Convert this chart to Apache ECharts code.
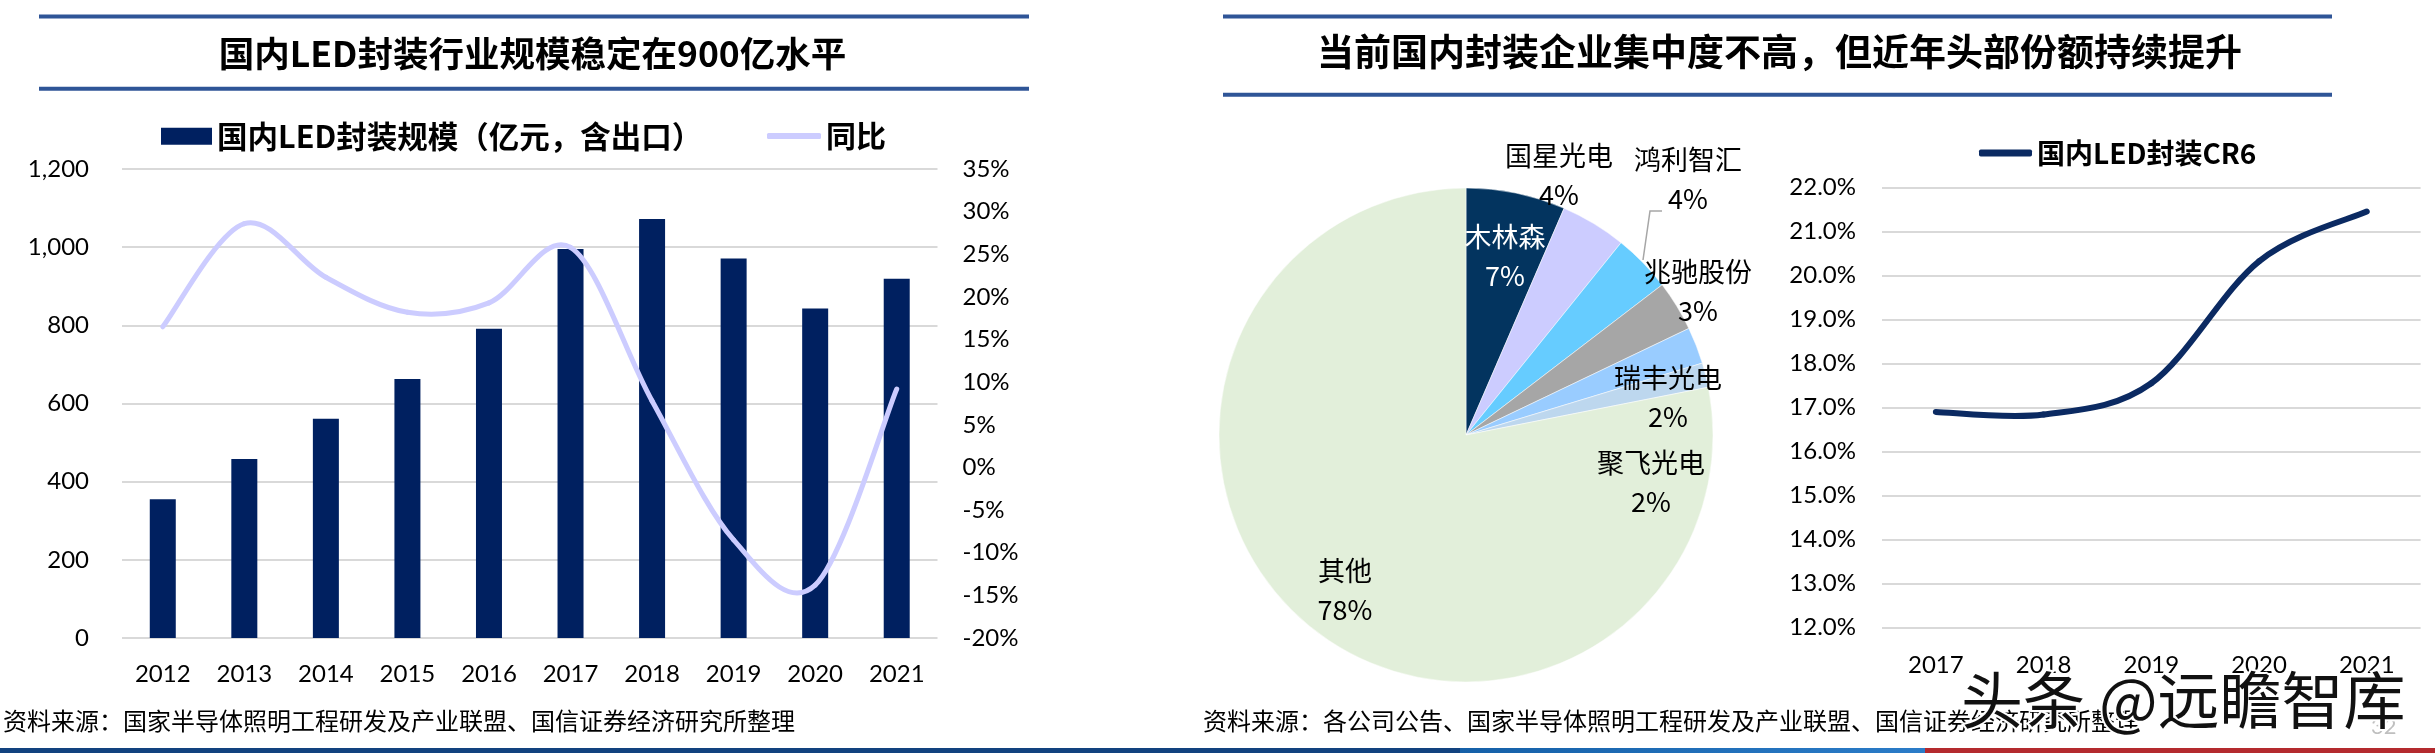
<!DOCTYPE html>
<html><head><meta charset="utf-8">
<script src="https://cdn.jsdelivr.net/npm/echarts@6/dist/echarts.min.js"></script>
<style>html,body{margin:0;padding:0;background:#fff}#c{width:2435px;height:753px}</style>
</head><body><div id="c"></div>
<script>
// ---------- data ----------
const years = ['2012','2013','2014','2015','2016','2017','2018','2019','2020','2021'];
const marketSize = [355, 458, 561, 663, 791, 995, 1072, 971, 843, 919];
const yoyGrowth = [16.5, 28.6, 22.3, 18.2, 19.3, 25.8, 7.8, -8.5, -13.8, 9.2];
const pieNames = ['木林森','国星光电','鸿利智汇','兆驰股份','瑞丰光电','聚飞光电','其他'];
const pieShares = [6.5, 4.3, 3.8, 3.3, 2.4, 1.6, 78.1];
const cr6Years = ['2017','2018','2019','2020','2021'];
const cr6 = [16.9, 16.84, 17.55, 20.32, 21.45];

const barName = '国内LED封装规模（亿元，含出口）';
const yoyName = '同比';
const cr6Name = '国内LED封装CR6';
const leftTitle = '国内LED封装行业规模稳定在900亿水平';
const rightTitle = '当前国内封装企业集中度不高，但近年头部份额持续提升';
const leftSource = '资料来源：国家半导体照明工程研发及产业联盟、国信证券经济研究所整理';
const rightSource = '资料来源：各公司公告、国家半导体照明工程研发及产业联盟、国信证券经济研究所整理';

// ---------- styles / layout ----------
const pieColors = ['#03345F','#CCCCFF','#66CCFF','#A6A6A6','#99CCFF','#BDD7EE','#E2EFDA'];
const pieLabelAt = [[1505,256],[1559,175],[1688,179],[1698,291],[1668,397],[1651,482],[1345,590]];
const CJK = "'Noto Sans CJK SC', sans-serif";
const NUM = "Lato, 'Liberation Sans', sans-serif";
const ruleColor = '#2F5597';
const gridColor = '#D9D9D9';
const yoyColor = '#CCCCFF';
const cr6Color = '#0B2A62';

// Excel-like smoothed line (Catmull-Rom, 1/6 tangents) drawn through the axis scales
function smoothLine(values, color, width) {
  return function (params, api) {
    const i = params.dataIndex;
    const n = values.length;
    if (i >= n - 1) return null;
    const P = k => { const j = Math.max(0, Math.min(n - 1, k)); return api.coord([j, values[j]]); };
    const p0 = P(i - 1), p1 = P(i), p2 = P(i + 1), p3 = P(i + 2);
    return {
      type: 'bezierCurve',
      z2: 10,
      shape: {
        x1: p1[0], y1: p1[1], x2: p2[0], y2: p2[1],
        cpx1: p1[0] + (p2[0] - p0[0]) / 6, cpy1: p1[1] + (p2[1] - p0[1]) / 6,
        cpx2: p2[0] - (p3[0] - p1[0]) / 6, cpy2: p2[1] - (p3[1] - p1[1]) / 6
      },
      style: {stroke: color, lineWidth: width, fill: null, lineCap: 'round'}
    };
  };
}

const chart = echarts.init(document.getElementById('c'), null, {renderer:'canvas'});

const option = {
  animation: false,
  backgroundColor: '#fff',
  legend: [
    {left:156, top:116, itemWidth:51, itemHeight:17, icon:'rect', selectedMode:false, data:[barName],
     textStyle:{fontSize:30.5, fontWeight:'bold', color:'#000', fontFamily:CJK, lineHeight:30}},
    {left:762, top:116, itemWidth:54, itemHeight:6, icon:'roundRect', selectedMode:false, data:[yoyName],
     textStyle:{fontSize:30, fontWeight:'bold', color:'#000', fontFamily:CJK, lineHeight:30}},
    {left:1974, top:134, itemWidth:53, itemHeight:7, icon:'roundRect', selectedMode:false, data:[cr6Name],
     textStyle:{fontSize:28, fontWeight:'bold', color:'#000', fontFamily:CJK, lineHeight:28}}
  ],
  grid: [
    {left:122, top:169, width:815.5, height:469},
    {left:1882, top:187.3, width:538.6, height:440.4}
  ],
  xAxis: [
    {type:'category', gridIndex:0, data:years, axisLine:{show:false}, axisTick:{show:false},
     axisLabel:{margin:24, fontSize:24, color:'#000', fontFamily:NUM}},
    {type:'category', gridIndex:1, data:cr6Years, axisLine:{show:false}, axisTick:{show:false},
     axisLabel:{margin:26, fontSize:24, color:'#000', fontFamily:NUM}}
  ],
  yAxis: [
    {type:'value', gridIndex:0, min:0, max:1200, interval:200,
     axisLine:{show:false}, axisTick:{show:false},
     axisLabel:{margin:33, fontSize:24, color:'#000', fontFamily:NUM},
     splitLine:{lineStyle:{color:gridColor, width:2}}},
    {type:'value', gridIndex:0, position:'right', min:-20, max:35, interval:5,
     axisLine:{show:false}, axisTick:{show:false}, splitLine:{show:false},
     axisLabel:{margin:25, fontSize:24, color:'#000', fontFamily:NUM, formatter:'{value}%'}},
    {type:'value', gridIndex:1, min:12, max:22, interval:1,
     axisLine:{show:false}, axisTick:{show:false},
     axisLabel:{margin:26, fontSize:24, color:'#000', fontFamily:NUM, formatter: v => v.toFixed(1) + '%'},
     splitLine:{lineStyle:{color:gridColor, width:2}}}
  ],
  series: [
    {name:barName, type:'bar', xAxisIndex:0, yAxisIndex:0, data:marketSize, barWidth:26, z:2,
     itemStyle:{color:'#002060'}},
    {name:yoyName, type:'custom', coordinateSystem:'cartesian2d', xAxisIndex:0, yAxisIndex:1, z:10,
     itemStyle:{color:yoyColor}, silent:true,
     data: yoyGrowth.map((v, i) => [i, v]),
     renderItem: smoothLine(yoyGrowth, yoyColor, 5)},
    {name:cr6Name, type:'custom', coordinateSystem:'cartesian2d', xAxisIndex:1, yAxisIndex:2, z:10,
     itemStyle:{color:cr6Color}, silent:true,
     data: cr6.map((v, i) => [i, v]),
     renderItem: smoothLine(cr6, cr6Color, 6)},
    {name:'share', type:'pie', center:[1466,435], radius:247, startAngle:90, clockwise:true,
     avoidLabelOverlap:false, silent:true,
     itemStyle:{borderColor:'#fff', borderWidth:0.5},
     label:{show:true, position:'outside', formatter: p => p.name + '\n' + Math.round(p.value) + '%',
            fontSize:27, lineHeight:39, color:'#000', fontFamily:CJK, align:'center'},
     labelLine:{show:false},
     labelLayout: function (p) {
       const pos = pieLabelAt[p.dataIndex];
       const o = {x:pos[0], y:pos[1], align:'center', verticalAlign:'middle'};
       if (p.dataIndex === 2) o.labelLinePoints = [[1643,260],[1650,211],[1662,211]];
       return o;
     },
     data: pieNames.map((n, i) => {
       const d = {name:n, value:pieShares[i], itemStyle:{color:pieColors[i]}};
       if (i === 0) d.label = {color:'#fff', position:'inside'};
       if (i === 2) d.labelLine = {show:true, lineStyle:{color:'#A6A6A6', width:1.5}};
       return d;
     })}
  ],
  graphic: [
    {type:'line', shape:{x1:39, y1:16.5, x2:1029, y2:16.5}, style:{stroke:ruleColor, lineWidth:4}},
    {type:'line', shape:{x1:39, y1:88.7, x2:1029, y2:88.7}, style:{stroke:ruleColor, lineWidth:4}},
    {type:'line', shape:{x1:1223, y1:16.5, x2:2332, y2:16.5}, style:{stroke:ruleColor, lineWidth:4}},
    {type:'line', shape:{x1:1223, y1:94.7, x2:2332, y2:94.7}, style:{stroke:ruleColor, lineWidth:4}},
    {type:'text', x:532.5, y:53.5, style:{text:leftTitle, fill:'#000', font:"bold 35.5px 'Noto Sans CJK SC'", textAlign:'center', textVerticalAlign:'middle'}},
    {type:'text', x:1779.5, y:51.5, style:{text:rightTitle, fill:'#000', font:"bold 37px 'Noto Sans CJK SC'", textAlign:'center', textVerticalAlign:'middle'}},
    {type:'text', x:3, y:721, style:{text:leftSource, fill:'#000', font:"24px 'Noto Sans CJK SC'", textAlign:'left', textVerticalAlign:'middle'}},
    {type:'text', x:1203, y:721, style:{text:rightSource, fill:'#000', font:"24px 'Noto Sans CJK SC'", textAlign:'left', textVerticalAlign:'middle'}},
    {type:'text', x:2371, y:727, style:{text:'32', fill:'#BFBFBF', font:"22px Lato", textAlign:'left', textVerticalAlign:'middle'}},
    {type:'rect', shape:{x:0, y:748, width:1460, height:5}, style:{fill:'#12427F'}},
    {type:'rect', shape:{x:1460, y:748, width:465, height:5}, style:{fill:new echarts.graphic.LinearGradient(0,0,1,0,[{offset:0,color:'#1560A8'},{offset:1,color:'#2B7CC8'}])}},
    {type:'rect', shape:{x:1925, y:748, width:510, height:5}, style:{fill:'#B42A2E'}},
    {type:'text', x:1961, y:700, z:100, style:{text:'头条 @远瞻智库', fill:'#111', stroke:'#fff', lineWidth:4, font:"62px 'Noto Sans CJK SC'", textAlign:'left', textVerticalAlign:'middle'}}
  ]
};
chart.setOption(option);
</script></body></html>
